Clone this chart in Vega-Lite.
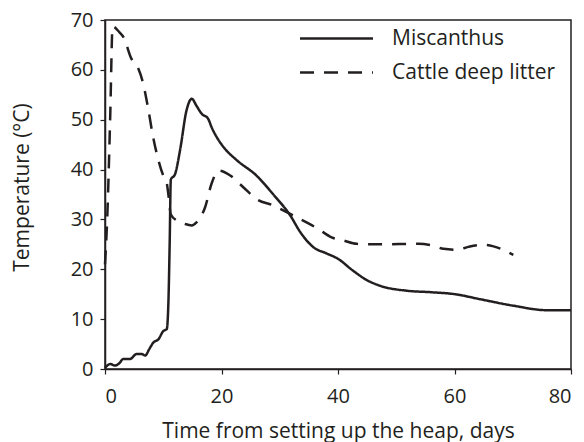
{
  "$schema": "https://vega.github.io/schema/vega-lite/v6.json",
  "width": 466,
  "height": 349,
  "autosize": {"type": "none"},
  "padding": {"left": 105, "top": 20, "right": 13, "bottom": 73},
  "background": "white",
  "config": {
    "font": "Open Sans",
    "view": {"stroke": "#231f20", "strokeWidth": 1.5},
    "axis": {
      "grid": false,
      "domainColor": "#231f20",
      "domainWidth": 1.5,
      "tickColor": "#231f20",
      "tickWidth": 1.2,
      "tickSize": 5,
      "labelFont": "Open Sans",
      "labelFontSize": 20,
      "labelColor": "#231f20",
      "titleFont": "Open Sans",
      "titleFontSize": 21,
      "titleFontWeight": "normal",
      "titleColor": "#231f20"
    }
  },
  "data": {
    "values": [
      {"series": "Miscanthus", "day": 0, "temp": 0.2},
      {"series": "Miscanthus", "day": 0.9, "temp": 1},
      {"series": "Miscanthus", "day": 1.7, "temp": 0.7},
      {"series": "Miscanthus", "day": 2.5, "temp": 1.2},
      {"series": "Miscanthus", "day": 3.1, "temp": 2},
      {"series": "Miscanthus", "day": 4.3, "temp": 2},
      {"series": "Miscanthus", "day": 5.4, "temp": 3},
      {"series": "Miscanthus", "day": 6.3, "temp": 3},
      {"series": "Miscanthus", "day": 6.9, "temp": 2.7},
      {"series": "Miscanthus", "day": 7.6, "temp": 4},
      {"series": "Miscanthus", "day": 8.3, "temp": 5.3},
      {"series": "Miscanthus", "day": 9.2, "temp": 6},
      {"series": "Miscanthus", "day": 10, "temp": 7.6},
      {"series": "Miscanthus", "day": 10.6, "temp": 8},
      {"series": "Miscanthus", "day": 10.9, "temp": 14},
      {"series": "Miscanthus", "day": 11.1, "temp": 25},
      {"series": "Miscanthus", "day": 11.3, "temp": 38},
      {"series": "Miscanthus", "day": 12, "temp": 39},
      {"series": "Miscanthus", "day": 12.9, "temp": 44},
      {"series": "Miscanthus", "day": 14, "temp": 51.9},
      {"series": "Miscanthus", "day": 14.9, "temp": 54.2},
      {"series": "Miscanthus", "day": 15.7, "temp": 52.8},
      {"series": "Miscanthus", "day": 16.6, "temp": 51.2},
      {"series": "Miscanthus", "day": 17.7, "temp": 50.2},
      {"series": "Miscanthus", "day": 18.3, "temp": 48.5},
      {"series": "Miscanthus", "day": 19.5, "temp": 45.9},
      {"series": "Miscanthus", "day": 20.5, "temp": 44.3},
      {"series": "Miscanthus", "day": 22.6, "temp": 41.9},
      {"series": "Miscanthus", "day": 26, "temp": 38.8},
      {"series": "Miscanthus", "day": 28.9, "temp": 35},
      {"series": "Miscanthus", "day": 31.8, "temp": 30.8},
      {"series": "Miscanthus", "day": 33.5, "temp": 27.5},
      {"series": "Miscanthus", "day": 35.8, "temp": 24.4},
      {"series": "Miscanthus", "day": 38, "temp": 23.2},
      {"series": "Miscanthus", "day": 40, "temp": 22.1},
      {"series": "Miscanthus", "day": 42.6, "temp": 19.7},
      {"series": "Miscanthus", "day": 45, "temp": 17.8},
      {"series": "Miscanthus", "day": 47.2, "temp": 16.7},
      {"series": "Miscanthus", "day": 51.8, "temp": 15.7},
      {"series": "Miscanthus", "day": 56, "temp": 15.4},
      {"series": "Miscanthus", "day": 60.1, "temp": 15},
      {"series": "Miscanthus", "day": 64.4, "temp": 14},
      {"series": "Miscanthus", "day": 70.1, "temp": 12.7},
      {"series": "Miscanthus", "day": 75.8, "temp": 11.8},
      {"series": "Miscanthus", "day": 80, "temp": 11.8},
      {"series": "Cattle deep litter", "day": 0, "temp": 21},
      {"series": "Cattle deep litter", "day": 0.4, "temp": 30.8},
      {"series": "Cattle deep litter", "day": 0.9, "temp": 50.9},
      {"series": "Cattle deep litter", "day": 1.3, "temp": 68.7},
      {"series": "Cattle deep litter", "day": 2.5, "temp": 67.5},
      {"series": "Cattle deep litter", "day": 3.2, "temp": 66.5},
      {"series": "Cattle deep litter", "day": 4.5, "temp": 62.3},
      {"series": "Cattle deep litter", "day": 5.7, "temp": 60.3},
      {"series": "Cattle deep litter", "day": 6.5, "temp": 57.5},
      {"series": "Cattle deep litter", "day": 7.4, "temp": 52.3},
      {"series": "Cattle deep litter", "day": 8.2, "temp": 46.9},
      {"series": "Cattle deep litter", "day": 9.1, "temp": 42.2},
      {"series": "Cattle deep litter", "day": 10, "temp": 38.8},
      {"series": "Cattle deep litter", "day": 10.6, "temp": 37.3},
      {"series": "Cattle deep litter", "day": 10.9, "temp": 34.8},
      {"series": "Cattle deep litter", "day": 11.3, "temp": 31},
      {"series": "Cattle deep litter", "day": 12.3, "temp": 29.8},
      {"series": "Cattle deep litter", "day": 13.7, "temp": 29.1},
      {"series": "Cattle deep litter", "day": 14.9, "temp": 28.8},
      {"series": "Cattle deep litter", "day": 15.7, "temp": 29.4},
      {"series": "Cattle deep litter", "day": 17.2, "temp": 32.5},
      {"series": "Cattle deep litter", "day": 18.3, "temp": 37.2},
      {"series": "Cattle deep litter", "day": 19.5, "temp": 39.8},
      {"series": "Cattle deep litter", "day": 21.5, "temp": 38.8},
      {"series": "Cattle deep litter", "day": 23.7, "temp": 36.5},
      {"series": "Cattle deep litter", "day": 26, "temp": 34.1},
      {"series": "Cattle deep litter", "day": 28.9, "temp": 32.8},
      {"series": "Cattle deep litter", "day": 31.8, "temp": 31.1},
      {"series": "Cattle deep litter", "day": 34.6, "temp": 29.4},
      {"series": "Cattle deep litter", "day": 36.6, "temp": 28.1},
      {"series": "Cattle deep litter", "day": 38.9, "temp": 26.4},
      {"series": "Cattle deep litter", "day": 40.9, "temp": 25.8},
      {"series": "Cattle deep litter", "day": 43.2, "temp": 25.1},
      {"series": "Cattle deep litter", "day": 47.2, "temp": 25},
      {"series": "Cattle deep litter", "day": 53.8, "temp": 25.1},
      {"series": "Cattle deep litter", "day": 56.4, "temp": 24.7},
      {"series": "Cattle deep litter", "day": 58.1, "temp": 24.1},
      {"series": "Cattle deep litter", "day": 60.4, "temp": 23.9},
      {"series": "Cattle deep litter", "day": 62.4, "temp": 24.5},
      {"series": "Cattle deep litter", "day": 64.9, "temp": 24.9},
      {"series": "Cattle deep litter", "day": 66.7, "temp": 24.6},
      {"series": "Cattle deep litter", "day": 70.1, "temp": 22.9}
    ]
  },
  "mark": {"type": "line", "interpolate": "monotone", "color": "#231f20", "strokeWidth": 2.5},
  "encoding": {
    "x": {
      "field": "day",
      "type": "quantitative",
      "scale": {"domain": [0, 80], "nice": false},
      "axis": {
        "values": [0, 20, 40, 60, 80],
        "title": "Time from setting up the heap, days",
        "labelPadding": 12,
        "titleBaseline": "alphabetic",
        "titleY": 68
      }
    },
    "y": {
      "field": "temp",
      "type": "quantitative",
      "scale": {"domain": [0, 70], "nice": false},
      "axis": {
        "values": [0, 10, 20, 30, 40, 50, 60, 70],
        "title": "Temperature (°C)",
        "labelPadding": 7,
        "titleBaseline": "alphabetic",
        "titleAngle": -90,
        "titleX": -77,
        "titleY": 167
      }
    },
    "strokeDash": {
      "field": "series",
      "type": "nominal",
      "scale": {"domain": ["Miscanthus", "Cattle deep litter"], "range": [[1, 0], [14, 10]]},
      "legend": {
        "title": null,
        "orient": "none",
        "legendX": 221,
        "legendY": 8,
        "padding": 0,
        "symbolType": "M-5,0H5",
        "symbolSize": 213,
        "symbolStrokeWidth": 2.5,
        "symbolStrokeColor": "#231f20",
        "symbolFillColor": "transparent",
        "labelFont": "Open Sans",
        "labelFontSize": 21,
        "labelColor": "#231f20",
        "labelOffset": 45,
        "labelLimit": 400,
        "rowPadding": 12
      }
    }
  }
}
